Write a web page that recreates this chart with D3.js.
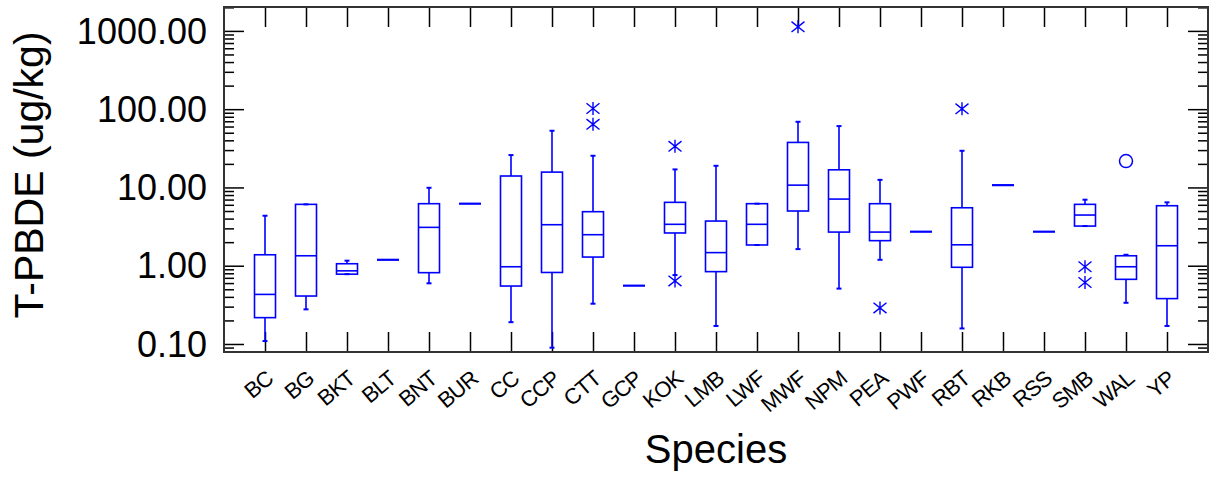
<!DOCTYPE html>
<html>
<head>
<meta charset="utf-8">
<script src="https://cdn.jsdelivr.net/npm/d3@7"></script>
<style>
  body { margin: 0; background: #fff; }
  text { font-family: "Liberation Sans", Arial, sans-serif; fill: #000; }
</style>
</head>
<body>
<div id="chart"></div>
<script>
// species on the x axis
var species = ["BC", "BG", "BKT", "BLT", "BNT", "BUR", "CC", "CCP", "CTT", "GCP", "KOK",
  "LMB", "LWF", "MWF", "NPM", "PEA", "PWF", "RBT", "RKB", "RSS", "SMB", "WAL", "YP"];

// box stats (ug/kg)
var whiskerLo = [0.109, 0.277, 0.78, 1.19, 0.596, 6.2, 0.19, 0.0897, 0.327, 0.556, 0.76,
  0.17, 1.84, 1.63, 0.51, 1.19, 2.72, 0.158, 10.7, 2.72, 3.21, 0.336, 0.17];
var q1 = [0.217, 0.41, 0.78, 1.19, 0.815, 6.2, 0.55, 0.82, 1.29, 0.556, 2.62,
  0.84, 1.84, 5.0, 2.69, 2.09, 2.72, 0.955, 10.7, 2.72, 3.21, 0.67, 0.38];
var median = [0.43, 1.34, 0.86, 1.19, 3.09, 6.2, 0.97, 3.34, 2.49, 0.556, 3.38,
  1.47, 3.38, 10.7, 7.1, 2.69, 2.72, 1.85, 10.7, 2.72, 4.44, 0.97, 1.80];
var q3 = [1.38, 6.08, 1.06, 1.19, 6.2, 6.2, 14.0, 15.7, 4.9, 0.556, 6.45,
  3.72, 6.2, 37.6, 16.8, 6.2, 2.72, 5.5, 10.7, 2.72, 6.08, 1.34, 5.84];
var whiskerHi = [4.35, 6.08, 1.16, 1.19, 9.9, 6.2, 25.9, 53, 25.4, 0.556, 17.0,
  18.9, 6.2, 69, 60.8, 12.5, 2.72, 29.4, 10.7, 2.72, 6.97, 1.38, 6.45];

// outliers: species, value, marker
var outSpecies = ["CTT", "CTT", "KOK", "KOK", "MWF", "PEA", "RBT", "SMB", "SMB", "WAL"];
var outValues = [102, 64, 33.5, 0.64, 1128, 0.289, 101, 0.97, 0.61, 21.7];
var outShape = ["star", "star", "star", "star", "star", "star", "star", "star", "star", "circle"];

var yMajor = [0.1, 1, 10, 100, 1000];

var svgWidth = 1211;
var svgHeight = 479;
var margin = { top: 7, right: 3, bottom: 127, left: 224 };
var width = svgWidth - margin.left - margin.right;
var height = svgHeight - margin.top - margin.bottom;

var blue = "#0000ff";

var svg = d3.select("#chart").append("svg")
  .attr("width", svgWidth)
  .attr("height", svgHeight);

var chartGroup = svg.append("g")
  .attr("transform", `translate(${margin.left}, ${margin.top})`);

var xScale = d3.scalePoint().domain(species).range([0, width]).padding(1);
var yScale = d3.scaleLog().domain([0.079, 2020]).range([height, 0]);

// minor ticks 2..9 in each decade that falls inside the domain
var yMinor = [];
for (var e = -2; e <= 3; e++) {
  for (var k = 2; k <= 9; k++) {
    var v = k * Math.pow(10, e);
    if (v >= yScale.domain()[0] && v <= yScale.domain()[1]) yMinor.push(v);
  }
}

function styleAxis(g) {
  g.select(".domain").remove();
  g.selectAll(".tick line").attr("stroke", "#000").attr("stroke-width", 1.5);
}

// left axis
chartGroup.append("g")
  .call(d3.axisLeft(yScale).tickValues(yMinor).tickSize(-10).tickFormat(""))
  .call(styleAxis);
var leftAxis = chartGroup.append("g")
  .call(d3.axisLeft(yScale).tickValues(yMajor).tickSize(-20).tickPadding(17)
    .tickFormat(d3.format(".2f")))
  .call(styleAxis);
leftAxis.selectAll("text")
  .attr("font-size", 36)
  .attr("dy", "0.34em")
  .attr("font-family", "Liberation Sans, Arial, sans-serif")
  .attr("fill", "#000");

// right axis (ticks inward)
chartGroup.append("g")
  .attr("transform", `translate(${width}, 0)`)
  .call(d3.axisRight(yScale).tickValues(yMinor).tickSize(-10).tickFormat(""))
  .call(styleAxis);
chartGroup.append("g")
  .attr("transform", `translate(${width}, 0)`)
  .call(d3.axisRight(yScale).tickValues(yMajor).tickSize(-20).tickFormat(""))
  .call(styleAxis);

// top axis
chartGroup.append("g")
  .call(d3.axisTop(xScale).tickSize(-20).tickFormat(""))
  .call(styleAxis);

// bottom axis with slanted labels
var bottomAxis = chartGroup.append("g")
  .attr("transform", `translate(0, ${height})`)
  .call(d3.axisBottom(xScale).tickSize(-20))
  .call(styleAxis);
bottomAxis.selectAll("text")
  .attr("x", 0)
  .attr("y", 0)
  .attr("dy", 0)
  .attr("transform", "translate(9, 29) rotate(-40)")
  .style("text-anchor", "end")
  .style("letter-spacing", "-0.8px")
  .attr("font-size", 22)
  .attr("font-family", "Liberation Sans, Arial, sans-serif")
  .attr("fill", "#000");

// frame
chartGroup.append("rect")
  .attr("x", 0)
  .attr("y", 0)
  .attr("width", width)
  .attr("height", height)
  .attr("fill", "none")
  .attr("stroke", "#333")
  .attr("stroke-width", 2);

// boxes
var boxW = 21;
var capW = 5;
var rows = species.map((s, i) => ({
  name: s, lo: whiskerLo[i], q1: q1[i], med: median[i], q3: q3[i], hi: whiskerHi[i]
}));

var boxes = chartGroup.selectAll(".box")
  .data(rows)
  .enter()
  .append("g")
  .attr("class", "box")
  .attr("transform", d => `translate(${xScale(d.name)}, 0)`)
  .attr("stroke", blue)
  .attr("fill", "none")
  .attr("stroke-width", 1.6);

boxes.each(function(d) {
  var g = d3.select(this);
  if (d.lo === d.hi) {
    // single sample: just a flat bar
    g.append("line")
      .attr("x1", -boxW / 2 - 0.5).attr("x2", boxW / 2 + 0.5)
      .attr("y1", yScale(d.med)).attr("y2", yScale(d.med))
      .attr("stroke-width", 2.2);
    return;
  }
  // whiskers
  g.append("line")
    .attr("x1", 0).attr("x2", 0)
    .attr("y1", yScale(d.hi)).attr("y2", yScale(d.q3));
  g.append("line")
    .attr("x1", 0).attr("x2", 0)
    .attr("y1", yScale(d.q1)).attr("y2", yScale(d.lo));
  [d.lo, d.hi].forEach(v => {
    g.append("line")
      .attr("x1", -capW / 2).attr("x2", capW / 2)
      .attr("y1", yScale(v)).attr("y2", yScale(v))
      .attr("stroke-width", 2);
  });
  g.append("rect")
    .attr("x", -boxW / 2)
    .attr("y", yScale(d.q3))
    .attr("width", boxW)
    .attr("height", yScale(d.q1) - yScale(d.q3));
  g.append("line")
    .attr("x1", -boxW / 2).attr("x2", boxW / 2)
    .attr("y1", yScale(d.med)).attr("y2", yScale(d.med));
});

// outliers
var outRows = outSpecies.map((s, i) => ({ name: s, value: outValues[i], shape: outShape[i] }));
var ms = 6.5;
outRows.forEach(d => {
  var cx = xScale(d.name);
  var cy = yScale(d.value);
  if (d.shape === "circle") {
    chartGroup.append("circle")
      .attr("cx", cx).attr("cy", cy).attr("r", ms)
      .attr("fill", "none").attr("stroke", blue).attr("stroke-width", 1.5);
  } else {
    var p = d3.path();
    p.moveTo(cx - ms, cy - ms * 0.8); p.lineTo(cx + ms, cy + ms * 0.8);
    p.moveTo(cx - ms, cy + ms * 0.8); p.lineTo(cx + ms, cy - ms * 0.8);
    p.moveTo(cx, cy - ms); p.lineTo(cx, cy + ms);
    chartGroup.append("path")
      .attr("d", p.toString())
      .attr("fill", "none").attr("stroke", blue).attr("stroke-width", 1.4);
  }
});

// axis titles
svg.append("text")
  .attr("transform", "rotate(-90)")
  .attr("x", -175)
  .attr("y", 43)
  .attr("text-anchor", "middle")
  .attr("font-size", 41)
  .text("T-PBDE (ug/kg)");

svg.append("text")
  .attr("x", 716)
  .attr("y", 463)
  .attr("text-anchor", "middle")
  .attr("font-size", 40)
  .text("Species");
</script>
</body>
</html>
